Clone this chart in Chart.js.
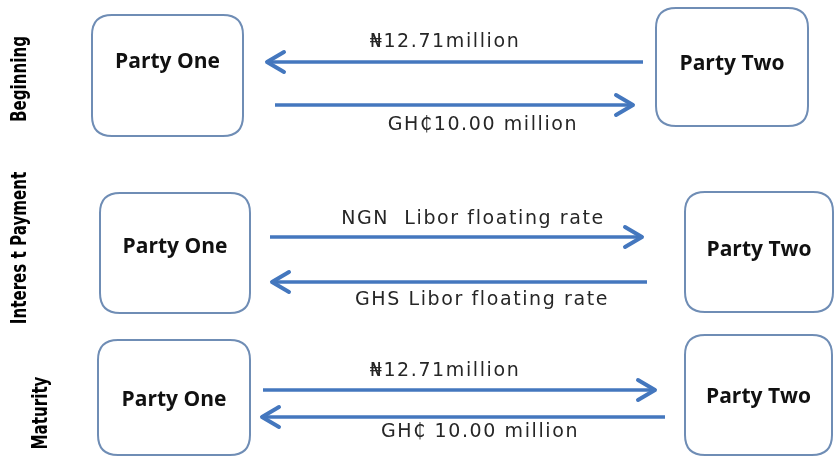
<!DOCTYPE html>
<html>
<head>
<meta charset="utf-8">
<script src="https://cdn.jsdelivr.net/npm/chart.js@4"></script>
<style>
  html, body { margin: 0; padding: 0; background: #fff; }
  #wrap { width: 834px; height: 458px; }
</style>
</head>
<body>
<div id="wrap"><canvas id="swapChart" width="834" height="458"></canvas></div>
<script>
// Diagram content
const stages = ['Beginning', 'Interes t Payment', 'Maturity'];
const parties = ['Party One', 'Party Two'];
const flowLabels = [
    ['\u20A612.71million', 'GH\u20B510.00 million'],
    ['NGN  Libor floating rate', 'GHS Libor floating rate'],
    ['\u20A612.71million', 'GH\u20B5 10.00 million']
];
// direction of each arrow: -1 points to Party One, 1 points to Party Two
const flowDirections = [[-1, 1], [1, -1], [1, -1]];

// Layout (in chart units, 0..834 by 0..458)
// arrows: [xStart, xEnd, y, labelX, labelY]
const layout = [
    { stage: [21, 79], one: [92, 15, 243, 136, 62], two: [656, 8, 808, 126, 64],
      arrows: [[267, 643, 62, 445, 42], [275, 633, 105, 483, 125]] },
    { stage: [21, 248], one: [100, 193, 250, 313, 247], two: [685, 192, 833, 312, 250],
      arrows: [[270, 642, 237, 473, 219], [272, 647, 282, 482, 300]] },
    { stage: [42, 413], one: [98, 340, 250, 455, 400], two: [685, 335, 832, 455, 397],
      arrows: [[263, 655, 390, 445, 371], [262, 665, 417, 480, 432]] }
];

const arrowColor = '#4477be';
const boxColor = '#6f8db5';

// one line dataset per arrow shaft
let datasets = [];
layout.forEach((row, i) => {
    row.arrows.forEach((a, j) => {
        datasets.push({
            data: [{ x: a[0], y: a[2] }, { x: a[1], y: a[2] }],
            borderColor: arrowColor,
            borderWidth: 3.5,
            pointRadius: 0,
            showLine: true,
            dir: flowDirections[i][j],
            label: flowLabels[i][j],
            labelX: a[3],
            labelY: a[4]
        });
    });
});

function roundRect(ctx, x, y, w, h, r) {
    ctx.beginPath();
    ctx.moveTo(x + r, y);
    ctx.lineTo(x + w - r, y);
    ctx.quadraticCurveTo(x + w, y, x + w, y + r);
    ctx.lineTo(x + w, y + h - r);
    ctx.quadraticCurveTo(x + w, y + h, x + w - r, y + h);
    ctx.lineTo(x + r, y + h);
    ctx.quadraticCurveTo(x, y + h, x, y + h - r);
    ctx.lineTo(x, y + r);
    ctx.quadraticCurveTo(x, y, x + r, y);
    ctx.closePath();
}

const diagramPlugin = {
    id: 'diagram',
    afterDatasetsDraw(chart) {
        const ctx = chart.ctx;
        const sx = chart.scales.x, sy = chart.scales.y;
        const px = v => sx.getPixelForValue(v);
        const py = v => sy.getPixelForValue(v);
        ctx.save();

        // arrow heads and labels
        chart.data.datasets.forEach(ds => {
            const y = py(ds.data[0].y);
            const tip = ds.dir < 0 ? px(ds.data[0].x) : px(ds.data[1].x);
            const back = ds.dir < 0 ? 1 : -1;
            ctx.strokeStyle = arrowColor;
            ctx.lineWidth = 4;
            ctx.lineCap = 'round';
            ctx.lineJoin = 'round';
            ctx.beginPath();
            ctx.moveTo(tip + back * 17, y - 10);
            ctx.lineTo(tip, y);
            ctx.lineTo(tip + back * 17, y + 10);
            ctx.stroke();

            ctx.fillStyle = '#262626';
            ctx.font = '19px "DejaVu Sans", sans-serif';
            ctx.letterSpacing = '1.6px';
            ctx.textAlign = 'center';
            ctx.textBaseline = 'middle';
            ctx.fillText(ds.label, px(ds.labelX), py(ds.labelY));
            ctx.letterSpacing = '0px';
        });

        // party boxes
        layout.forEach((row, i) => {
            [row.one, row.two].forEach((b, k) => {
                const x0 = px(b[0]), y0 = py(b[1]), x1 = px(b[2]), y1 = py(b[3]);
                ctx.strokeStyle = boxColor;
                ctx.lineWidth = 2;
                roundRect(ctx, x0, y0, x1 - x0, y1 - y0, 20);
                ctx.stroke();
                ctx.fillStyle = '#111';
                ctx.font = 'bold 21px "Open Sans", Lato, sans-serif';
                ctx.textAlign = 'center';
                ctx.textBaseline = 'middle';
                ctx.fillText(parties[k], (x0 + x1) / 2, py(b[4]));
            });

            // stage label, rotated and condensed
            ctx.save();
            ctx.translate(px(row.stage[0]), py(row.stage[1]));
            ctx.rotate(-Math.PI / 2);
            ctx.scale(0.8, 1);
            ctx.fillStyle = '#000';
            ctx.font = 'bold 21px "Liberation Sans Narrow", "DejaVu Sans Condensed", sans-serif';
            ctx.textAlign = 'center';
            ctx.textBaseline = 'middle';
            ctx.fillText(stages[i], 0, 0);
            ctx.restore();
        });

        ctx.restore();
    }
};

let swapChart = new Chart(document.getElementById('swapChart').getContext('2d'), {
    type: 'scatter',
    data: { datasets: datasets },
    options: {
        responsive: false,
        animation: false,
        layout: { padding: 0 },
        plugins: { legend: { display: false }, tooltip: { enabled: false } },
        scales: {
            x: { type: 'linear', min: 0, max: 834, display: false },
            y: { type: 'linear', min: 0, max: 458, reverse: true, display: false }
        }
    },
    plugins: [diagramPlugin]
});
</script>
</body>
</html>
